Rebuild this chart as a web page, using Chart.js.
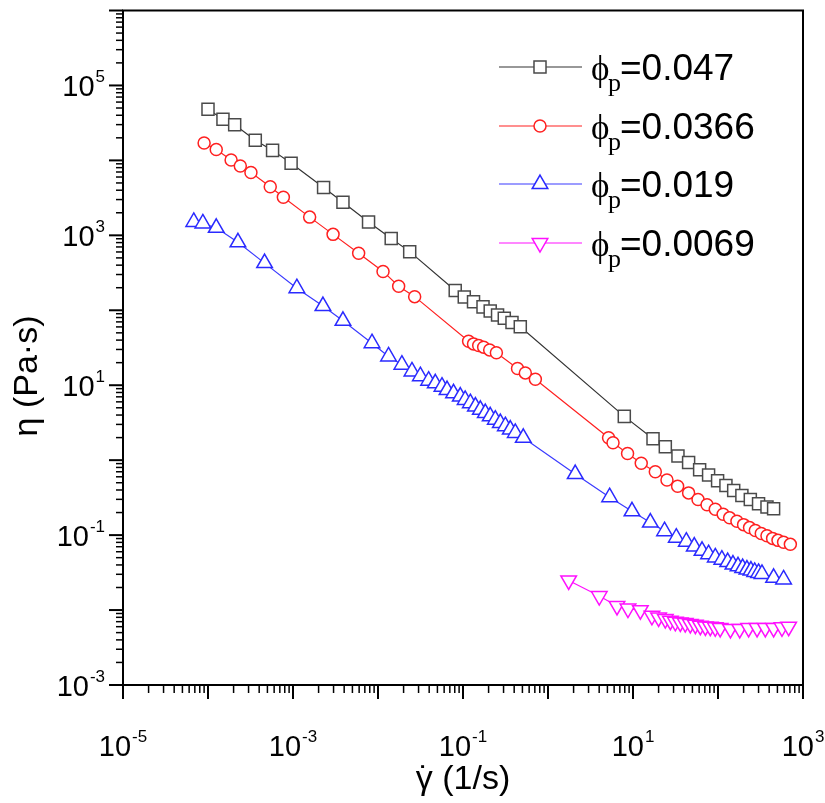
<!DOCTYPE html>
<html>
<head>
<meta charset="utf-8">
<script src="https://cdn.jsdelivr.net/npm/chart.js@4.4.1/dist/chart.umd.min.js"></script>
<style>
html,body{margin:0;padding:0;background:#fff;}
#wrap{width:825px;height:803px;}
</style>
</head>
<body>
<div id="wrap"><canvas id="c" width="825" height="803"></canvas></div>
<script>
// ---- data (shear rate in 1/s, viscosity in Pa·s) ----
const rate047 = [1.0e-4, 1.5e-4, 2.06e-4, 3.6e-4, 5.75e-4, 9.5e-4, 2.29e-3, 3.87e-3, 7.74e-3, 0.0143, 0.0236, 0.081, 0.1035, 0.133, 0.172, 0.209, 0.255, 0.306, 0.377, 0.472, 7.9, 17.2, 24, 33.8, 45.1, 60.8, 77.5, 98.9, 124, 153, 191, 240, 300, 377, 451];
const eta047 = [48000, 35500, 29900, 18600, 13600, 9160, 4360, 2770, 1510, 910, 606, 184, 150, 130, 111, 98, 86.7, 78.4, 68.8, 60.2, 3.84, 1.93, 1.51, 1.14, 0.929, 0.745, 0.632, 0.533, 0.458, 0.394, 0.338, 0.299, 0.262, 0.237, 0.225];

const rate0366 = [9.0e-5, 1.25e-4, 1.87e-4, 2.4e-4, 3.2e-4, 5.4e-4, 7.7e-4, 1.57e-3, 2.96e-3, 5.92e-3, 0.01146, 0.0175, 0.027, 0.1164, 0.133, 0.153, 0.175, 0.206, 0.247, 0.438, 0.541, 0.71, 5.16, 5.82, 8.63, 12.5, 18.3, 25.1, 33.5, 45.1, 58.2, 74.3, 92.9, 115, 137, 167, 200, 235, 275, 323, 377, 439, 508, 591, 710];
const eta0366 = [17100, 14000, 10100, 8430, 6890, 4460, 3220, 1750, 1030, 577, 330, 209, 152, 38.6, 35.6, 33.8, 32.2, 29.6, 27.1, 16.7, 14.6, 12.0, 1.99, 1.71, 1.23, 0.91, 0.70, 0.543, 0.449, 0.366, 0.299, 0.254, 0.221, 0.190, 0.170, 0.153, 0.138, 0.126, 0.115, 0.105, 0.098, 0.0904, 0.0851, 0.0802, 0.0753];

const rate019 = [6.8e-5, 8.7e-5, 1.25e-4, 2.25e-4, 4.63e-4, 1.11e-3, 2.25e-3, 3.87e-3, 8.5e-3, 0.0133, 0.0191, 0.0251, 0.0315, 0.0394, 0.0472, 0.0566, 0.0649, 0.0774, 0.0929, 0.106, 0.122, 0.140, 0.160, 0.183, 0.209, 0.240, 0.275, 0.315, 0.360, 0.412, 0.512, 2.09, 5.31, 9.73, 16.0, 23.5, 32.3, 42.4, 52.6, 64.9, 77.5, 92.9, 111, 130, 150, 172, 195, 219, 244, 270, 300, 329, 451, 591];
const eta019 = [1510, 1440, 1260, 806, 426, 197, 114, 72.3, 36.4, 24.2, 18.8, 15.3, 13.2, 11.5, 10.6, 9.55, 8.61, 7.80, 7.05, 6.36, 5.75, 5.20, 4.70, 4.25, 3.84, 3.47, 3.13, 2.84, 2.56, 2.31, 1.99, 0.652, 0.321, 0.208, 0.147, 0.113, 0.0925, 0.0818, 0.0703, 0.0617, 0.0556, 0.0504, 0.0470, 0.0437, 0.0404, 0.0383, 0.0364, 0.0347, 0.0336, 0.0322, 0.0313, 0.0303, 0.0269, 0.0256];

const rate0069 = [1.75, 4.01, 6.48, 8.73, 12.2, 16.7, 20.0, 24.0, 27.5, 31.5, 36.0, 41.2, 47.2, 54.1, 61.9, 71.0, 81.1, 92.9, 106, 140, 180, 229, 288, 360, 451, 566, 678];
const eta0069 = [0.0248, 0.0154, 0.01135, 0.01047, 0.00997, 0.00838, 0.00796, 0.00758, 0.00721, 0.00698, 0.00684, 0.00671, 0.00652, 0.00638, 0.00619, 0.00605, 0.00600, 0.00588, 0.00577, 0.00560, 0.00560, 0.00577, 0.00577, 0.00577, 0.00577, 0.00588, 0.00600];

const legendLabels = ['0.047', '0.0366', '0.019', '0.0069'];
const xTickExps = [-5, -3, -1, 1, 3];
const yTickExps = [-3, -1, 1, 3, 5];
const xTitleSymbol = '\u03B3';
const xTitleDot = '\u02D9';
const xTitleUnit = ' (1/s)';
const yTitle = '\u03B7 (Pa\u00B7s)';

// ---- styles ----
const styles = [
  {marker: '#4a4a4a', line: '#333333', shape: 'rect', r: 8.5, rot: 0},
  {marker: '#ff2020', line: '#ff2020', shape: 'circle', r: 6, rot: 0},
  {marker: '#2a2aff', line: '#3a3aff', shape: 'triangle', r: 9, rot: 0},
  {marker: '#ff10ff', line: '#ff10ff', shape: 'triangle', r: 9, rot: 180}
];
const seriesX = [rate047, rate0366, rate019, rate0069];
const seriesY = [eta047, eta0366, eta019, eta0069];

const toPoints = (xs, ys) => xs.map((x, i) => ({x: x, y: ys[i]}));

const SANS = '"Liberation Sans", Arial, Helvetica, sans-serif';
const SERIF = '"Liberation Serif", "DejaVu Serif", "Times New Roman", serif';

function drawPow(ctx, exp, x, yc, align) {
  const base = '10', sup = String(exp);
  ctx.font = '29px ' + SANS;
  const wb = ctx.measureText(base).width;
  ctx.font = '17px ' + SANS;
  const ws = ctx.measureText(sup).width;
  const total = wb + ws + 1;
  const x0 = align === 'right' ? x - total : x - total / 2;
  ctx.textAlign = 'left';
  ctx.textBaseline = 'alphabetic';
  ctx.fillStyle = '#000';
  ctx.font = '29px ' + SANS;
  ctx.fillText(base, x0, yc + 10.5);
  ctx.font = '17px ' + SANS;
  ctx.fillText(sup, x0 + wb + 1, yc - 3);
}

const decor = {
  id: 'decor',
  afterDraw(chart) {
    const ctx = chart.ctx, a = chart.chartArea;
    const sx = chart.scales.x, sy = chart.scales.y;
    ctx.save();
    // frame
    ctx.strokeStyle = '#000';
    ctx.lineWidth = 2;
    ctx.strokeRect(a.left, a.top, a.right - a.left, a.bottom - a.top);
    // y ticks
    for (let e = -3; e <= 6; e++) {
      for (let m = 1; m <= 9; m++) {
        const v = m * Math.pow(10, e);
        if (v > sy.max * 1.0001) break;
        const p = sy.getPixelForValue(v);
        const len = m === 1 ? 14 : 7;
        ctx.lineWidth = m === 1 ? 2 : 1.5;
        ctx.beginPath();
        ctx.moveTo(a.left - len, p);
        ctx.lineTo(a.left, p);
        ctx.stroke();
      }
    }
    // x ticks
    for (let e = -5; e <= 3; e++) {
      for (let m = 1; m <= 9; m++) {
        const v = m * Math.pow(10, e);
        if (v > sx.max * 1.0001) break;
        const p = sx.getPixelForValue(v);
        const len = m === 1 ? 14 : 8;
        ctx.lineWidth = m === 1 ? 2 : 1.5;
        ctx.beginPath();
        ctx.moveTo(p, a.bottom);
        ctx.lineTo(p, a.bottom + len);
        ctx.stroke();
      }
    }
    // tick labels
    yTickExps.forEach(e => drawPow(ctx, e, 105, sy.getPixelForValue(Math.pow(10, e)), 'right'));
    xTickExps.forEach(e => drawPow(ctx, e, sx.getPixelForValue(Math.pow(10, e)), 745, 'center'));
    // x axis title
    ctx.fillStyle = '#000';
    ctx.font = '34px ' + SANS;
    ctx.textAlign = 'left';
    ctx.textBaseline = 'alphabetic';
    const wg = ctx.measureText(xTitleSymbol).width;
    const wu = ctx.measureText(xTitleUnit).width;
    const wd = ctx.measureText(xTitleDot).width;
    const tx0 = (a.left + a.right) / 2 - (wg + wu) / 2;
    const tBase = 789;
    ctx.fillText(xTitleSymbol, tx0, tBase);
    ctx.fillText(xTitleDot, tx0 + wg / 2 - wd / 2, tBase);
    ctx.fillText(xTitleUnit, tx0 + wg, tBase);
    // y axis title
    ctx.save();
    ctx.translate(28, 376);
    ctx.rotate(-Math.PI / 2);
    ctx.textAlign = 'center';
    ctx.textBaseline = 'middle';
    ctx.font = '34px ' + SANS;
    ctx.fillText(yTitle, 0, 0);
    ctx.restore();
    // legend
    const rows = [67, 126, 184, 243];
    chart.data.datasets.forEach((ds, i) => {
      const y = rows[i];
      ctx.strokeStyle = ds.borderColor;
      ctx.lineWidth = 1.2;
      ctx.beginPath();
      ctx.moveTo(499, y);
      ctx.lineTo(582, y);
      ctx.stroke();
      ctx.fillStyle = '#fff';
      ctx.strokeStyle = ds.pointBorderColor;
      ctx.lineWidth = 1.5;
      Chart.helpers.drawPoint(ctx, {
        pointStyle: ds.pointStyle, radius: ds.pointRadius, rotation: ds.pointRotation, borderWidth: 1.5
      }, 540, y);
      ctx.fillStyle = '#000';
      ctx.textAlign = 'left';
      ctx.textBaseline = 'alphabetic';
      ctx.font = '35px ' + SERIF;
      ctx.fillText('\u03D5', 591, y + 13);
      ctx.font = '26px ' + SERIF;
      ctx.fillText('p', 608, y + 24);
      ctx.font = '37px ' + SANS;
      ctx.fillText('=' + legendLabels[i], 620, y + 13);
    });
    ctx.restore();
  }
};

new Chart(document.getElementById('c').getContext('2d'), {
  type: 'scatter',
  data: {
    datasets: styles.map((s, i) => ({
      label: legendLabels[i],
      data: toPoints(seriesX[i], seriesY[i]),
      showLine: true,
      borderColor: s.line,
      borderWidth: 1.2,
      pointStyle: s.shape,
      pointRadius: s.r,
      pointHoverRadius: s.r,
      pointRotation: s.rot,
      pointBorderColor: s.marker,
      pointBackgroundColor: '#ffffff',
      pointBorderWidth: 1.5,
      tension: 0,
      clip: false
    }))
  },
  options: {
    responsive: false,
    animation: false,
    devicePixelRatio: 1,
    events: [],
    layout: {padding: {top: 3, right: 22, left: 0, bottom: 0}},
    plugins: {legend: {display: false}, tooltip: {enabled: false}},
    scales: {
      x: {
        type: 'logarithmic', min: 1e-5, max: 1e3,
        grid: {display: false}, border: {display: false},
        ticks: {display: false},
        afterFit(s) { s.height = 118; }
      },
      y: {
        type: 'logarithmic', min: 1e-3, max: 1e6,
        grid: {display: false}, border: {display: false},
        ticks: {display: false},
        afterFit(s) { s.width = 123; }
      }
    }
  },
  plugins: [decor]
});
</script>
</body>
</html>
